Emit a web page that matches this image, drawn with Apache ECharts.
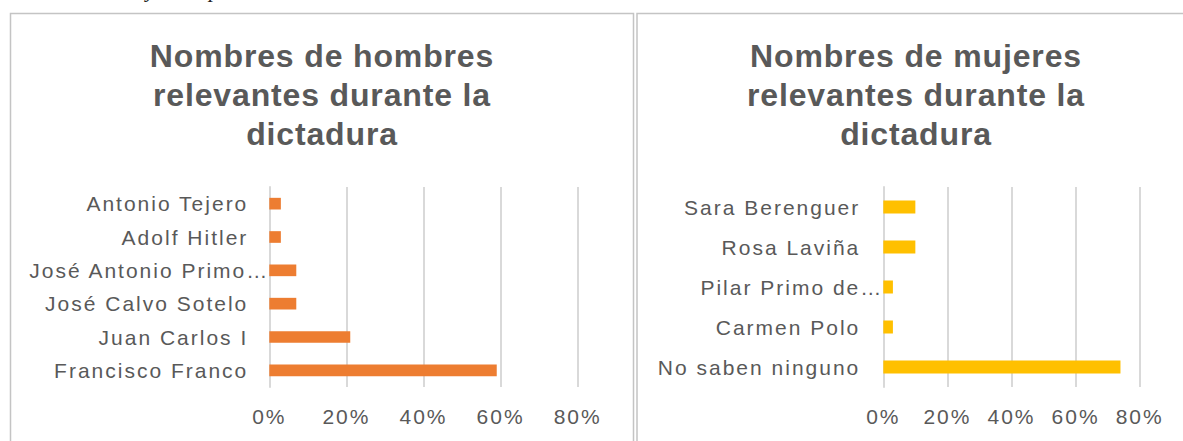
<!DOCTYPE html>
<html>
<head>
<meta charset="utf-8">
<script src="https://cdn.jsdelivr.net/npm/echarts@6/dist/echarts.min.js"></script>
<style>
  html, body { margin: 0; padding: 0; background: #fff; }
  #chart { width: 1183px; height: 441px; }
  /* Excel-style loose spacing for the labels */
  #chart svg text { letter-spacing: 2px; }
  #chart svg text[style*="bold"] { letter-spacing: 0.85px; }
</style>
</head>
<body>
<div id="chart"></div>
<script>
// hombres (de abajo arriba, como en Excel)
const menNames = ['Francisco Franco', 'Juan Carlos I', 'José Calvo Sotelo', 'José Antonio Primo…', 'Adolf Hitler', 'Antonio Tejero']
const menValues = [59, 21, 7, 7, 3, 3]

// mujeres
const womenNames = ['No saben ninguno', 'Carmen Polo', 'Pilar Primo de…', 'Rosa Laviña', 'Sara Berenguer']
const womenValues = [74, 3, 3, 10, 10]

const percentTicks = [0, 20, 40, 60, 80]

const titleMen = 'Nombres de hombres\nrelevantes durante la\ndictadura'
const titleWomen = 'Nombres de mujeres\nrelevantes durante la\ndictadura'

const textColor = '#595959'
const gridColor = '#d9d9d9'
const labelFont = 'Liberation Sans, Arial, sans-serif'

const chart = echarts.init(document.getElementById('chart'), null, { renderer: 'svg' })

const valueAxis = (gridIndex, margin) => ({
  type: 'value',
  gridIndex,
  min: percentTicks[0],
  max: percentTicks[percentTicks.length - 1],
  interval: percentTicks[1] - percentTicks[0],
  axisLine: { show: false },
  axisTick: { show: false },
  axisLabel: {
    formatter: '{value}%',
    color: textColor,
    fontSize: 21,
    fontFamily: labelFont,
    margin
  },
  splitLine: { lineStyle: { color: gridColor, width: 2 } }
})

// los nombres cortados con "…" llegan hasta el eje, como en Excel
const categoryAxis = (gridIndex, names, margin) => ({
  type: 'category',
  gridIndex,
  data: names.map(n => n.endsWith('…')
    ? { value: n, textStyle: { padding: [0, -margin, 0, 0] } }
    : n),
  axisLine: { show: true, lineStyle: { color: gridColor, width: 2 } },
  axisTick: { show: false },
  axisLabel: {
    color: textColor,
    fontSize: 21,
    fontFamily: labelFont,
    margin
  }
})

const titleText = (text, x) => ({
  type: 'text',
  x,
  y: 36,
  style: {
    text,
    fill: textColor,
    font: 'bold 32px Liberation Sans, Arial, sans-serif',
    lineHeight: 39,
    textAlign: 'center',
    textVerticalAlign: 'top'
  }
})

const option = {
  animation: false,
  backgroundColor: '#fff',
  graphic: [
    // marcos de los dos gráficos
    { type: 'rect', shape: { x: 10.5, y: 13.5, width: 623, height: 460 },
      style: { fill: 'none', stroke: '#c4c4c4', lineWidth: 1.5 } },
    { type: 'rect', shape: { x: 637, y: 13.5, width: 580, height: 460 },
      style: { fill: 'none', stroke: '#c4c4c4', lineWidth: 1.5 } },
    titleText(titleMen, 322),
    titleText(titleWomen, 916),
    // restos del pie de figura cortado arriba
    { type: 'text', x: 146, y: 0, style: { text: 'y', fill: '#222', font: 'italic 22px Liberation Serif, serif', textVerticalAlign: 'bottom' } },
    { type: 'text', x: 209, y: 0, style: { text: 'p', fill: '#222', font: 'italic 22px Liberation Serif, serif', textVerticalAlign: 'bottom' } }
  ],
  grid: [
    { left: 269.3, top: 187, width: 308.4, height: 200 },
    { left: 883.3, top: 187, width: 256.4, height: 200 }
  ],
  xAxis: [valueAxis(0, 19), valueAxis(1, 19)],
  yAxis: [categoryAxis(0, menNames, 21), categoryAxis(1, womenNames, 23)],
  series: [
    {
      type: 'bar',
      xAxisIndex: 0,
      yAxisIndex: 0,
      data: menValues,
      barWidth: '35%',
      itemStyle: { color: '#ED7D31' }
    },
    {
      type: 'bar',
      xAxisIndex: 1,
      yAxisIndex: 1,
      data: womenValues,
      barWidth: '32.5%',
      itemStyle: { color: '#FFC000' }
    }
  ]
}

chart.setOption(option)
</script>
</body>
</html>
